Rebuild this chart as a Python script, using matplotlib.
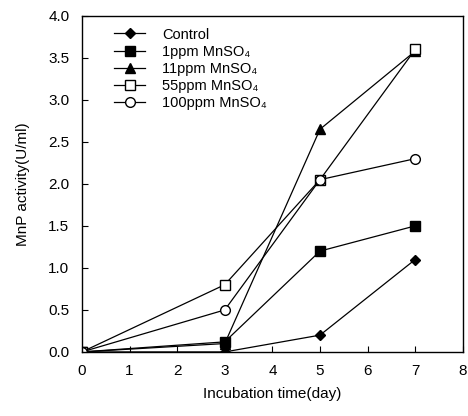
import matplotlib
matplotlib.use("Agg")
import matplotlib.pyplot as plt

plt.rcParams['font.family'] = ['Liberation Sans', 'DejaVu Sans']

days = [0, 3, 5, 7]
control = [0.0, 0.0, 0.2, 1.1]
mn1 = [0.0, 0.12, 1.2, 1.5]
mn11 = [0.0, 0.1, 2.65, 3.58]
mn55 = [0.0, 0.8, 2.05, 3.6]
mn100 = [0.0, 0.5, 2.05, 2.3]

labels = ["Control", "1ppm MnSO₄", "11ppm MnSO₄", "55ppm MnSO₄", "100ppm MnSO₄"]

f = plt.figure(figsize=(4.68, 4.16), dpi=100)
ax = f.add_axes([0.175, 0.154, 0.814, 0.808])

ax.plot(days, control, "k-", marker="D", ms=5, mfc="black", lw=0.9, label=labels[0])
ax.plot(days, mn1, "k-", marker="s", ms=6.5, mfc="black", lw=0.9, label=labels[1])
ax.plot(days, mn11, "k-", marker="^", ms=7.5, mfc="black", lw=0.9, label=labels[2])
ax.plot(days, mn55, "k-", marker="s", ms=7, mfc="white", lw=0.9, label=labels[3])
ax.plot(days, mn100, "k-", marker="o", ms=7, mfc="white", lw=0.9, label=labels[4])

ax.set_xlim(0, 8)
ax.set_ylim(0, 4.0)
ax.set_xticks(range(0, 9))
ax.set_yticks([0, 0.5, 1.0, 1.5, 2.0, 2.5, 3.0, 3.5, 4.0])
ax.set_yticklabels(["0.0", "0.5", "1.0", "1.5", "2.0", "2.5", "3.0", "3.5", "4.0"])
ax.tick_params(direction="in", length=4, labelsize=11, colors="black", pad=9)
ax.set_xlabel("Incubation time(day)", fontsize=11, labelpad=6)
ax.set_ylabel("MnP activity(U/ml)", fontsize=11, labelpad=13)
for s in ax.spines.values():
    s.set_linewidth(1.0)

ax.legend(loc="upper left", bbox_to_anchor=(0.085, 0.965), frameon=False, fontsize=10.5,
          handlelength=2.1, handletextpad=1.2, labelspacing=0.22,
          borderaxespad=0, borderpad=0)

plt.savefig("out.png", dpi=100)
